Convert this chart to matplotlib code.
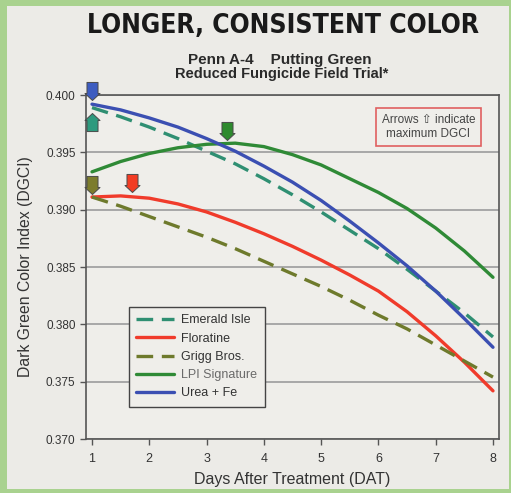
"""
DGCI over days after treatment, Penn A-4 putting green
"""
import matplotlib
matplotlib.use("Agg")
import matplotlib.pyplot as plt
from matplotlib import font_manager
from matplotlib.path import Path
from matplotlib.patches import Rectangle

plt.rcParams['font.family'] = ['Liberation Sans', 'DejaVu Sans']

# values, every half day from 1 to 8 DAT
days = [1, 1.5, 2, 2.5, 3, 3.5, 4, 4.5, 5, 5.5, 6, 6.5, 7, 7.5, 8]
emerald = [0.3989, 0.3981, 0.3972, 0.3962, 0.3951, 0.3940, 0.3927, 0.3913, 0.3898,
           0.3882, 0.3866, 0.3848, 0.3829, 0.3810, 0.3789]
floratine = [0.3911, 0.3912, 0.3910, 0.3905, 0.3898, 0.3889, 0.3879, 0.3868, 0.3856,
             0.3843, 0.3829, 0.3811, 0.3790, 0.3767, 0.3742]
grigg = [0.3911, 0.3903, 0.3894, 0.3885, 0.3876, 0.3866, 0.3855, 0.3844, 0.3833,
         0.3821, 0.3808, 0.3796, 0.3782, 0.3768, 0.3754]
lpi = [0.3933, 0.3942, 0.3949, 0.3954, 0.3957, 0.3958, 0.3955, 0.3948, 0.3939,
       0.3927, 0.3915, 0.3901, 0.3884, 0.3864, 0.3841]
urea = [0.3992, 0.3987, 0.3980, 0.3972, 0.3962, 0.3951, 0.3938, 0.3924, 0.3908,
        0.3890, 0.3871, 0.3851, 0.3829, 0.3805, 0.3780]

labels = ["Emerald Isle", "Floratine", "Grigg Bros.", "LPI Signature", "Urea + Fe"]
series = [emerald, floratine, grigg, lpi, urea]
colors = ["#2f8f72", "#f03b2b", "#6e7a2c", "#2f8a36", "#3b4fb2"]
dashed = [True, False, True, False, False]

# arrows marking maximum DGCI (tip position, direction)
arrow_days = [1.0, 1.7, 1.0, 3.36, 1.0]
arrow_vals = [0.3984, 0.39155, 0.3914, 0.3961, 0.3996]
arrow_up = [True, False, False, False, False]
arrow_colors = ["#2e9a7e", "#f23c24", "#7c7c2c", "#2e8a2e", "#3d5cc0"]

y_ticks = [0.370, 0.375, 0.380, 0.385, 0.390, 0.395, 0.400]
x_ticks = [1, 2, 3, 4, 5, 6, 7, 8]

bg = "#ecebe7"
fig = plt.figure(figsize=(5.11, 4.93), dpi=100, facecolor="#a9d28f")
fig.patches.append(Rectangle((7 / 511, 4 / 493), 1 - 9 / 511, 1 - 10 / 493,
                             transform=fig.transFigure, facecolor=bg,
                             edgecolor="none", zorder=-1))

ax = fig.add_axes([86 / 511, 1 - 439 / 493, 413 / 511, 344 / 493])
ax.set_facecolor("#efeeea")

for vals, lab, col, dsh in zip(series, labels, colors, dashed):
    ln, = ax.plot(days, vals, color=col, lw=2.4, label=lab, solid_capstyle='round')
    if dsh:
        ln.set_dashes((5, 2.6))

# block arrow marker, tip at the origin
down = Path([(0, 0), (-7.5, 7), (-5.5, 7), (-5.5, 18), (5.5, 18), (5.5, 7), (7.5, 7), (0, 0)],
            [Path.MOVETO] + [Path.LINETO] * 6 + [Path.CLOSEPOLY])
up = Path([(x, -y) for x, y in down.vertices], down.codes)
for d, v, u, c in zip(arrow_days, arrow_vals, arrow_up, arrow_colors):
    ax.plot([d], [v], marker=up if u else down, ms=26, color=c, mec="#4a4a4a",
            mew=0.7, linestyle='none', clip_on=False, zorder=5)

ax.set_xlim(0.895, 8.105)
ax.set_ylim(0.370, 0.400)
ax.set_yticks(y_ticks)
ax.set_yticklabels([f"{t:.3f}" for t in y_ticks])
ax.set_xticks(x_ticks)
ax.yaxis.grid(True, color="#9c9c9c", lw=1.2)
ax.set_axisbelow(True)
ax.tick_params(axis='both', direction='out', colors="#555555", labelcolor="#333333",
               labelsize=8.5, width=1, length=4)
ax.tick_params(axis='x', pad=6, labelsize=9)
for s in ax.spines.values():
    s.set_color("#555555")
    s.set_linewidth(1.2)

ax.set_xlabel("Days After Treatment (DAT)", fontsize=11.5, color="#333333", labelpad=5)
ax.set_ylabel("Dark Green Color Index (DGCI)", fontsize=11.3, color="#333333", labelpad=9)

leg = ax.legend(loc='upper left', bbox_to_anchor=(0.104, 0.384), borderaxespad=0,
                fontsize=9, handlelength=3.0, labelspacing=0.5, fancybox=False,
                facecolor="#efeeea", edgecolor="#444444", framealpha=1, borderpad=0.6,
                handletextpad=0.6)
leg.get_frame().set_linewidth(1)
for t in leg.get_texts():
    t.set_color("#333333")
leg.get_texts()[3].set_color("#6a6a6a")

ax.text(0.829, 0.907, "Arrows \u21e7 indicate\nmaximum DGCI", transform=ax.transAxes,
        ha='center', va='center', fontsize=8.5, color="#444444", linespacing=1.3,
        bbox=dict(boxstyle='square,pad=0.5', facecolor="#efeeea", edgecolor="#e06060", lw=1.2))

# condensed heavy face for the headline if one is installed
title_prop = font_manager.FontProperties(family='DejaVu Sans', stretch='condensed', weight='bold')
if 'Condensed' not in font_manager.findfont(title_prop, fallback_to_default=False):
    title_prop = font_manager.FontProperties(family='Liberation Sans', weight='bold')
title_prop.set_size(19)
fig.text(0.553, 0.948, "LONGER, CONSISTENT COLOR", ha='center', va='center',
         fontproperties=title_prop, color="#1a1a1a")
fig.text(0.548, 0.878, "Penn A-4    Putting Green", ha='center', va='center',
         fontsize=11, fontweight='bold', color="#2a2a2a")
fig.text(0.552, 0.849, "Reduced Fungicide Field Trial*", ha='center', va='center',
         fontsize=10.5, fontweight='bold', color="#2a2a2a")

fig.savefig("out.png", dpi=100, facecolor=fig.get_facecolor())
